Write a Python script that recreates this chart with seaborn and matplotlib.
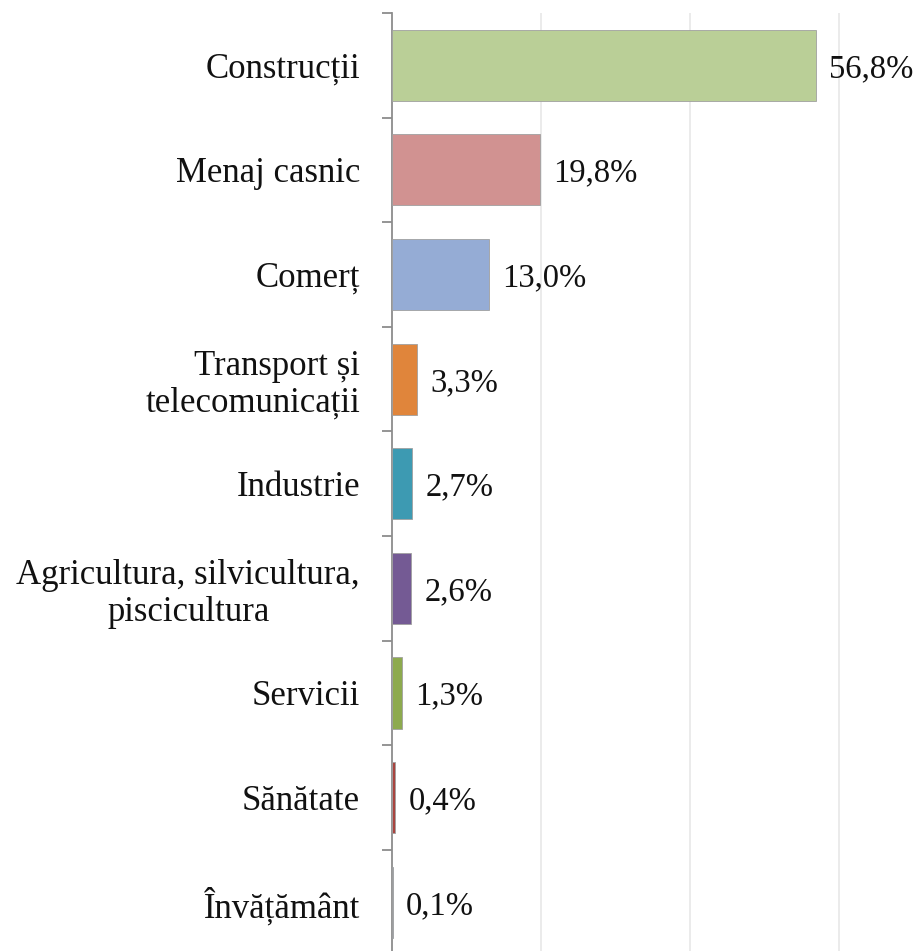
import numpy as np
import pandas as pd
import matplotlib
matplotlib.use("Agg")
import matplotlib.pyplot as plt
import seaborn as sns
from matplotlib.ticker import FixedLocator

# date
categorii = ["Construcții", "Menaj casnic", "Comerț", "Transport și\ntelecomunicații",
             "Industrie", "Agricultura, silvicultura,\npiscicultura", "Servicii",
             "Sănătate", "Învățământ"]
valori = [56.8, 19.8, 13.0, 3.3, 2.7, 2.6, 1.3, 0.4, 0.1]
culori = ["#BACF97", "#D19291", "#95ACD5", "#E0853B", "#3D9AB2",
          "#745A94", "#8DAA4E", "#A9443F", "#7A8CA8"]

df = pd.DataFrame({"categorie": categorii, "valoare": valori})

sns.set_theme(style="white")
plt.rcParams['font.family'] = ['Liberation Serif', 'DejaVu Serif']

fig = plt.figure(figsize=(9.14, 9.51), dpi=100)
# axa: sus la y=13px, jos putin sub marginea imaginii
ax = fig.add_axes([392 / 914, -3.5 / 951, 522 / 914, 941.5 / 951])

sns.barplot(data=df, x="valoare", y="categorie", hue="categorie", palette=culori,
            legend=False, width=0.68, saturation=1, edgecolor="#A0A0A0", linewidth=0.6,
            ax=ax, zorder=3)

ax.set_xlim(0, 70)
ax.set_ylim(len(categorii) - 0.5, -0.5)
ax.set_xticks([20, 40, 60])
ax.set_xticklabels([])
ax.tick_params(axis="x", length=0)
ax.grid(axis="x", color="#E8E8E8", linewidth=1.2, zorder=0)
ax.grid(axis="y", visible=False)

for s in ["top", "right", "bottom"]:
    ax.spines[s].set_visible(False)
ax.spines["left"].set_color("#8C8C8C")
ax.spines["left"].set_linewidth(1.3)

ax.set_xlabel("")
ax.set_ylabel("")
ax.set_yticks(range(len(categorii)))
ax.set_yticklabels(categorii, fontsize=25, color="#111111", ha="right",
                   multialignment="center", linespacing=1.15)
# "Transport și" apare aliniat la dreapta in original
ax.get_yticklabels()[3].set_multialignment("right")
ax.tick_params(axis="y", which="major", length=0, pad=23)
ax.yaxis.set_minor_locator(FixedLocator(np.arange(-0.5, len(categorii), 1.0)))
ax.tick_params(axis="y", which="minor", length=7, width=1.3, color="#8C8C8C", left=True)

for i, v in enumerate(valori):
    ax.text(v + 1.8, i, f"{v:.1f}%".replace(".", ","), va="center_baseline", ha="left",
            fontsize=23.5, color="#111111")

fig.savefig("out.png", dpi=100)
